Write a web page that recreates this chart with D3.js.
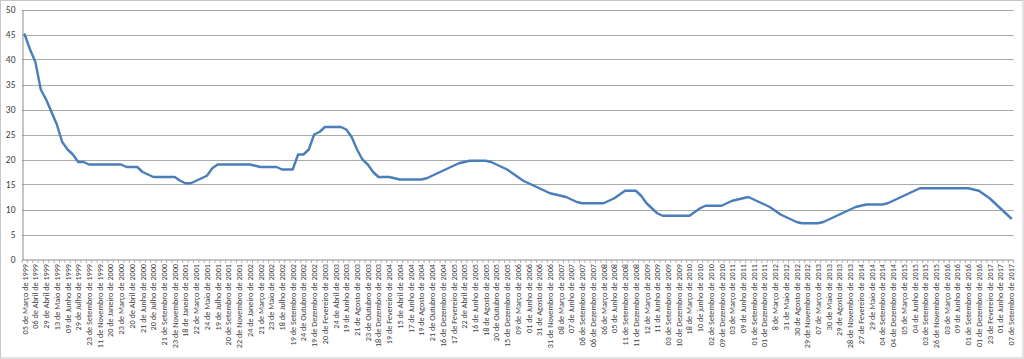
<!DOCTYPE html>
<html><head><meta charset="utf-8">
<script src="https://cdn.jsdelivr.net/npm/d3@7"></script>
<style>
html,body{margin:0;padding:0;background:#fff;}
svg{display:block;}
</style></head>
<body>
<svg id="chart" width="1024" height="359"></svg>
<script>
// Taxa (one value per category; every other category is labelled)
const selic = [
45,42,39.5,34,32,29.5,27,23.5,22,21,19.5,19.5,19,19,19,19,19,19,19,18.5,
18.5,18.5,17.5,17,16.5,16.5,16.5,16.5,16.5,15.75,15.25,15.25,15.75,16.25,16.75,18.25,19,19,19,19,
19,19,19,18.75,18.5,18.5,18.5,18.5,18,18,18,21,21,22,25,25.5,26.5,26.5,26.5,26.5,
26,24.5,22,20,19,17.5,16.5,16.5,16.5,16.25,16,16,16,16,16,16.25,16.75,17.25,17.75,18.25,
18.75,19.25,19.5,19.75,19.75,19.75,19.75,19.5,19,18.5,18,17.25,16.5,15.75,15.25,14.75,14.25,13.75,13.25,13,
12.75,12.5,12,11.5,11.25,11.25,11.25,11.25,11.25,11.75,12.25,13,13.75,13.75,13.75,12.75,11.25,10.25,9.25,8.75,
8.75,8.75,8.75,8.75,8.75,9.5,10.25,10.75,10.75,10.75,10.75,11.25,11.75,12,12.25,12.5,12,11.5,11,10.5,
9.75,9,8.5,8,7.5,7.25,7.25,7.25,7.25,7.5,8,8.5,9,9.5,10,10.5,10.75,11,11,11,
11,11.25,11.75,12.25,12.75,13.25,13.75,14.25,14.25,14.25,14.25,14.25,14.25,14.25,14.25,14.25,14.25,14,13.75,13,
12.25,11.25,10.25,9.25,8.25
];
// Labels shown on the category axis (every second category)
const tickLabels = [
"05 de Março de 1999","06 de Abril de 1999","29 de Abril de 1999","13 de Maio de 1999","09 de Junho de 1999",
"29 de Julho de 1999","23 de Setembro de 1999","11 de Novembro de 1999","20 de Janeiro de 2000","23 de Março de 2000",
"20 de Abril de 2000","21 de Junho de 2000","20 de Julho de 2000","21 de Setembro de 2000","23 de Novembro de 2000",
"18 de Janeiro de 2001","22 de Março de 2001","24 de Maio de 2001","19 de Julho de 2001","20 de Setembro de 2001",
"22 de Novembro de 2001","24 de Janeiro de 2002","21 de Março de 2002","23 de Maio de 2002","18 de Julho de 2002",
"19 de Setembro de 2002","24 de Outubro de 2002","19 de Dezembro de 2002","20 de Fevereiro de 2003","24 de Abril de 2003",
"19 de Junho de 2003","21 de Agosto de 2003","23 de Outubro de 2003","18 de Dezembro de 2003","19 de Fevereiro de 2004",
"15 de Abril de 2004","17 de Junho de 2004","19 de Agosto de 2004","21 de Outubro de 2004","16 de Dezembro de 2004",
"17 de Fevereiro de 2005","22 de Abril de 2005","16 de Junho de 2005","18 de Agosto de 2005","20 de Outubro de 2005",
"15 de Dezembro de 2005","09 de Março de 2006","01 de Junho de 2006","31 de Agosto de 2006","31 de Novembro de 2006",
"08 de Março de 2007","07 de Junho de 2007","06 de Setembro de 2007","06 de Dezembro de 2007","06 de Março de 2008",
"05 de Junho de 2008","11 de Setembro de 2008","11 de Dezembro de 2008","12 de Março de 2009","11 de Junho de 2009",
"03 de Setembro de 2009","10 de Dezembro de 2009","18 de Março de 2010","10 de junho de 2010","02 de Setembro de 2010",
"09 de Dezembro de 2010","03 de Março de 2011","09 de Junho de 2011","01 de Setembro de 2011","01 de Dezembro de 2011",
"8 de Março de 2012","31 de Maio de 2012","30 de Agosto de 2012","29 de Novembro de 2012","07 de Março de 2013",
"30 de Maio de 2013","29 de Agosto de 2013","28 de Novembro de 2013","27 de Fevereiro de 2014","29 de Maio de 2014",
"04 de Setembro de 2014","04 de Dezembro de 2014","05 de Março de 2015","04 de Junho de 2015","03 de Setembro de 2015",
"26 de Novembro de 2015","03 de Março de 2016","09 de Junho de 2016","01 de Setembro de 2016","01 de Dezembro de 2016",
"23 de Fevereiro de 2017","01 de Junho de 2017","07 de Setembro de 2017"
];
const yTicks = [0,5,10,15,20,25,30,35,40,45,50];

(function(){
const svg = d3.select("#chart");
const mLeft = 22, mRight = 1013.7, mTop = 9.5, mBottom = 259.5;
const font = "Calibri, 'Liberation Sans Narrow', 'DejaVu Sans Condensed', 'Liberation Sans', sans-serif";

svg.append("rect").attr("x",0.5).attr("y",0.5).attr("width",1022.5).attr("height",357.5)
  .attr("fill","#fff").attr("stroke","#c6c6c6");

const x = d3.scaleBand().domain(d3.range(selic.length)).range([mLeft, mRight]).padding(0);
const y = d3.scaleLinear().domain([0,50]).range([mBottom, mTop]);

// gridlines
svg.append("g").selectAll("line").data(yTicks.filter(d=>d>0)).join("line")
  .attr("x1",mLeft).attr("x2",mRight)
  .attr("y1",d=>Math.round(y(d))+0.5).attr("y2",d=>Math.round(y(d))+0.5)
  .attr("stroke","#a9a9a9").attr("stroke-width",1);

// y axis
const yAxis = d3.axisLeft(y).tickValues(yTicks).tickSize(0).tickPadding(7);
const gy = svg.append("g").attr("transform",`translate(${mLeft+0.5},0)`).call(yAxis);
gy.select(".domain").attr("stroke","#8c8c8c");
gy.selectAll("text").attr("font-family",font).attr("font-size","9.5px").attr("fill","#404040");

// x axis
const bw = x.bandwidth();
const gx = svg.append("g").attr("transform",`translate(0,${mBottom+0.5})`);
gx.append("line").attr("x1",mLeft).attr("x2",mRight).attr("stroke","#8c8c8c");
gx.selectAll("line.t").data(d3.range(selic.length+1)).join("line").attr("class","t")
  .attr("x1",d=>mLeft+d*bw).attr("x2",d=>mLeft+d*bw).attr("y1",0).attr("y2",3)
  .attr("stroke","#9a9a9a").attr("stroke-width",0.8);
gx.selectAll("text").data(tickLabels).join("text")
  .attr("transform",(d,i)=>`translate(${x(i*2)+bw/2+3},4) rotate(-90)`)
  .attr("text-anchor","end")
  .attr("font-family",font).attr("font-size","8.2px").attr("fill","#404040")
  .text(d=>d);

// line
const line = d3.line().x((d,i)=>x(i)+bw/2).y(d=>y(d));
svg.append("path").datum(selic).attr("d",line)
  .attr("fill","none").attr("stroke","#4a7ebb").attr("stroke-width",2.4)
  .attr("stroke-linejoin","round").attr("stroke-linecap","round");
})();
</script>
</body></html>
